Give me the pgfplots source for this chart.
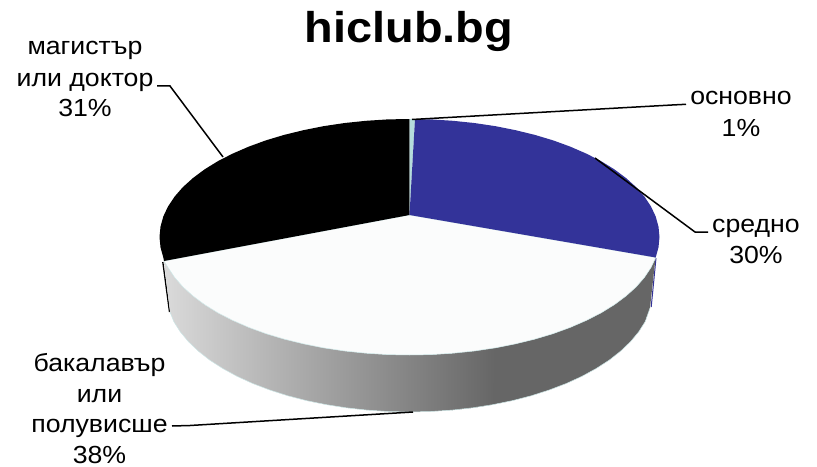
\documentclass[border=0pt]{standalone}
\usepackage{fontspec}
\setmainfont{Liberation Sans}
\usepackage{pgfplots}
\pgfplotsset{compat=1.18}
\definecolor{pieblue}{HTML}{333399}
\definecolor{pieteal}{HTML}{B5DCDC}
\definecolor{pieface}{HTML}{FBFCFC}
\definecolor{pieedge}{HTML}{CDE6E6}
\definecolor{sidedark}{HTML}{666666}
\definecolor{sidelight}{HTML}{DADADA}
\newcommand\lab[3]{\node[anchor=base, font=\fontsize{24.7}{31}\selectfont, xscale=1.08, transform shape] at (axis cs:#1,#2) {#3};}
\begin{document}
\begin{tikzpicture}
\begin{axis}[
  hide axis, scale only axis, width=817pt, height=465pt,
  xmin=0, xmax=817, ymin=0, ymax=465, y dir=reverse, clip=false]
% thin slivers of the side
\addplot[black, line width=1.3pt] coordinates {(162.8,262) (169.5,312)};
\addplot[pieblue, line width=1pt] coordinates {(656,258) (651.2,307)};
% side, dark part
\addplot[fill=sidedark, draw=none] coordinates {
 (452.9,353.2) (474.2,351) (495,347.9) (515.2,343.9) (534.5,339.2) (552.9,333.7) (570.2,327.4) (586.3,320.4)
 (601,312.9) (614.3,304.7) (626,296) (636.1,286.9) (644.4,277.4) (651,267.5) (655.5,258)
 (650,308) (645.2,321.6) (638.8,331.7) (630.6,341.6) (620.8,351) (609.4,360) (596.4,368.4) (582,376.3)
 (566.3,383.5) (549.5,389.9) (531.5,395.7) (512.6,400.6) (493,404.6) (472.7,407.8) (451.9,410.1)};
% side, shaded part
\addplot[left color=sidelight, right color=sidedark, draw=none] coordinates {
 (495,347.9) (474.2,351) (452.9,353.2) (431.3,354.6) (409.5,355) (387.7,354.6) (366.1,353.2) (344.8,351)
 (324,347.9) (303.8,343.9) (284.5,339.2) (266.1,333.7) (248.8,327.4) (232.7,320.4)
 (218,312.9) (204.7,304.7) (193,296) (182.9,286.9) (174.6,277.4) (168,267.5) (164,261)
 (170,312) (173.8,321.6) (180.2,331.7) (188.4,341.6) (198.2,351) (209.6,360) (222.6,368.4) (237,376.3)
 (252.7,383.5) (269.5,389.9) (287.5,395.7) (306.4,400.6) (326,404.6) (346.3,407.8)
 (367.1,410.1) (388.2,411.5) (409.5,412) (430.8,411.5) (451.9,410.1) (472.7,407.8) (493,404.6) (495,347.9)};
\addplot[draw=pieedge, line width=0.5pt] coordinates {
 (170,312) (173.8,321.6) (180.2,331.7) (188.4,341.6) (198.2,351) (209.6,360) (222.6,368.4) (237,376.3)
 (252.7,383.5) (269.5,389.9) (287.5,395.7) (306.4,400.6) (326,404.6) (346.3,407.8)
 (367.1,410.1) (388.2,411.5) (409.5,412) (430.8,411.5) (451.9,410.1) (472.7,407.8) (493,404.6) (512.6,400.6)
 (531.5,395.7) (549.5,389.9) (566.3,383.5) (582,376.3) (596.4,368.4) (609.4,360) (620.8,351) (630.6,341.6)
 (638.8,331.7) (645.2,321.6) (650,308)};
% top: white slice
\addplot[fill=pieface, draw=pieedge, line width=0.5pt] coordinates {
 (409.5,215) (655.7,257.5) (651,267.5) (644.4,277.4) (636.1,286.9) (626,296) (614.3,304.7) (601,312.9)
 (586.3,320.4) (570.2,327.4) (552.9,333.7) (534.5,339.2) (515.2,343.9) (495,347.9) (474.2,351)
 (452.9,353.2) (431.3,354.6) (409.5,355) (387.7,354.6) (366.1,353.2) (344.8,351) (324,347.9) (303.8,343.9)
 (284.5,339.2) (266.1,333.7) (248.8,327.4) (232.7,320.4) (218,312.9) (204.7,304.7)
 (193,296) (182.9,286.9) (174.6,277.4) (168,267.5) (164,261) (409.5,215)};
% top: black slice
\addplot[fill=black, draw=none] coordinates {
 (409.5,215) (164,261) (163.3,257.5) (160.5,247.3) (159.5,237) (160.5,226.7) (163.3,216.5) (168,206.5)
 (174.6,196.6) (182.9,187.1) (193,178) (204.7,169.3) (218,161.1) (232.7,153.6)
 (248.8,146.6) (266.1,140.3) (284.5,134.8) (303.8,130.1) (324,126.1) (344.8,123) (366.1,120.8) (387.7,119.4)
 (409.5,119) (409.5,215)};
% top: teal slice
\addplot[fill=pieteal, draw=none] coordinates {(409.5,215) (409.5,119) (415,119.1) (409.5,215)};
% top: blue slice
\addplot[fill=pieblue, draw=none] coordinates {
 (409.5,215) (415,119.1) (431.3,119.4) (452.9,120.8) (474.2,123) (495,126.1) (515.2,130.1) (534.5,134.8)
 (552.9,140.3) (570.2,146.6) (586.3,153.6) (601,161.1) (614.3,169.3) (626,178) (636.1,187.1) (644.4,196.6)
 (651,206.5) (655.7,216.5) (658.5,226.7) (659.5,237) (658.5,247.3) (655.7,257.5) (409.5,215)};
% leader lines
\addplot[black, line width=1.5pt] coordinates {(412,119.5) (672,105) (686,104.3)};
\addplot[black, line width=1.5pt] coordinates {(595,158) (695,232) (708,232)};
\addplot[black, line width=1.5pt] coordinates {(157,86) (170,86) (223,157)};
\addplot[black, line width=1.5pt] coordinates {(172,426) (190,425.5) (413,412)};
% title
\node[anchor=base, font=\fontsize{43}{48}\selectfont\bfseries, xscale=1.09, transform shape] at (axis cs:409,43) {hiclub.bg};
% labels
\lab{85}{55}{магистър}
\lab{85}{86.5}{или доктор}
\lab{85}{117}{31\%}
\lab{741}{105}{основно}
\lab{741}{136}{1\%}
\lab{756}{232}{средно}
\lab{756}{263}{30\%}
\lab{99.5}{371}{бакалавър}
\lab{99.5}{402}{или}
\lab{99.5}{432}{полувисше}
\lab{99.5}{463}{38\%}
\end{axis}
\path[use as bounding box] (0,0) rectangle (817pt,465pt);
\end{tikzpicture}
\end{document}
